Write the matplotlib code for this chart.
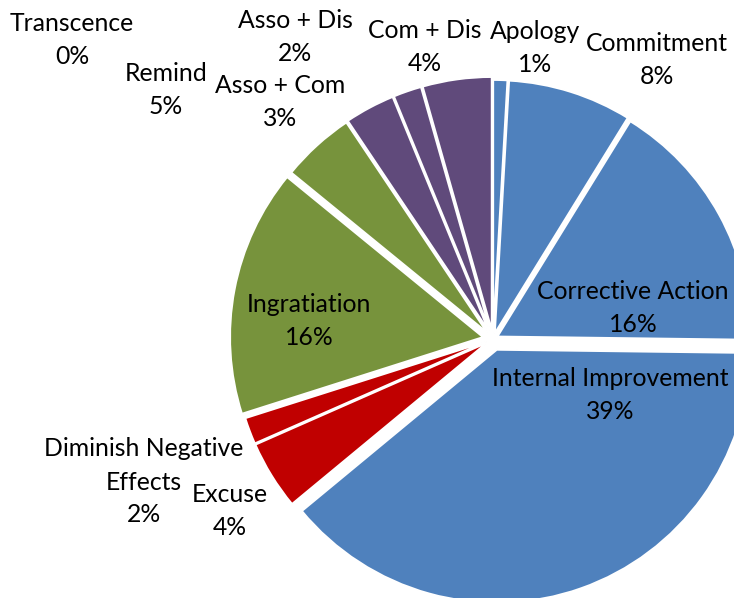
import matplotlib
matplotlib.use("Agg")
import matplotlib.pyplot as plt

# ---------------- data ----------------
categories = ["Apology", "Commitment", "Corrective Action", "Internal Improvement",
              "Excuse", "Diminish Negative\nEffects", "Ingratiation", "Remind",
              "Transcence", "Asso + Com", "Asso + Dis", "Com + Dis"]
shares = [0.9, 7.9, 16.4, 38.8, 4.4, 1.7, 15.8, 4.7, 0.0, 3.2, 1.8, 4.4]

# ---------------- style / layout ----------------
BLUE, RED, GREEN, PURPLE = "#4F81BD", "#C00000", "#77933C", "#604A7B"
colors = [BLUE, BLUE, BLUE, BLUE, RED, RED, GREEN, GREEN, GREEN, PURPLE, PURPLE, PURPLE]
explode = [0.024, 0.024, 0.02, 0.045, 0.028, 0.028, 0.04, 0.034, 0.0, 0.036, 0.036, 0.036]

W, H = 734, 598
CX, CY, RPX = 493, 339, 253          # pie centre / radius in pixels
# label-block centres in pixel coordinates (from top-left)
label_px = [(535, 48), (657, 60), (633, 308), (610, 395),
            (230, 511), (144, 482), (309, 321), (166, 90),
            (72, 40), (280, 102), (295, 37), (425, 47)]
LINE_PX = 33

plt.rcParams["font.family"] = ["Lato", "DejaVu Sans"]

fig = plt.figure(figsize=(W / 100, H / 100), dpi=100)
ax = fig.add_axes([0, 0, 1, 1])
wedges, _ = ax.pie(shares, colors=colors, explode=explode, startangle=90,
                   counterclock=False, radius=1.0,
                   wedgeprops=dict(edgecolor="white", linewidth=1.4))
ax.set_xlim(-CX / RPX, (W - CX) / RPX)
ax.set_ylim(-(H - CY) / RPX, CY / RPX)
ax.set_aspect("auto")
ax.set_axis_off()

# fit font size so that "Internal Improvement" is about 237 px wide
probe = fig.text(0, 0, "Internal Improvement", fontsize=16)
fig.canvas.draw()
w = probe.get_window_extent().width
fs = 16 * 237 / w
probe.remove()

for name, v, (px, py) in zip(categories, shares, label_px):
    lines = name.split("\n") + [f"{round(v):.0f}%"]
    n = len(lines)
    for i, line in enumerate(lines):
        ly = py + (i - (n - 1) / 2) * LINE_PX
        ax.text((px - CX) / RPX, (CY - ly) / RPX, line, ha="center", va="center",
                fontsize=fs, color="black")

fig.savefig("out.png", dpi=100)
